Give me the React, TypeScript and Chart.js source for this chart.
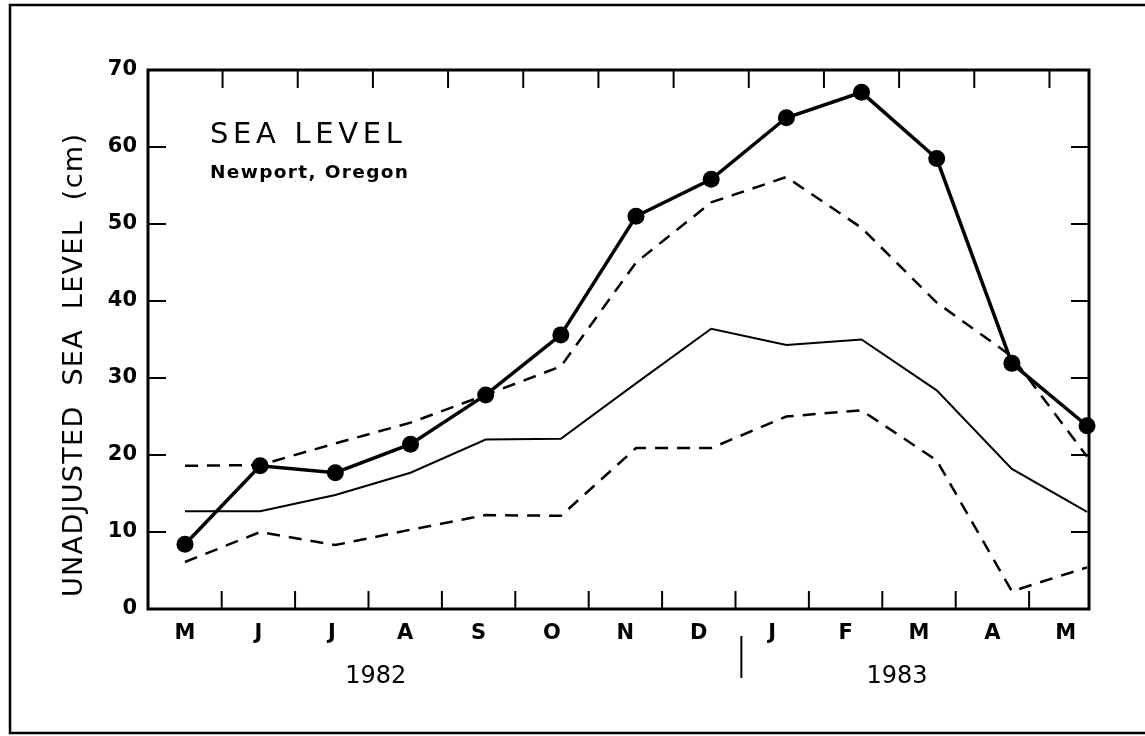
import React, { useEffect, useRef } from 'react';
import { Chart, registerables } from 'chart.js';

Chart.register(...registerables);

// ---- data ----
const months = ['M', 'J', 'J', 'A', 'S', 'O', 'N', 'D', 'J', 'F', 'M', 'A', 'M'];
const years = ['1982', '1983'];
const yTickValues = [0, 10, 20, 30, 40, 50, 60, 70];

// observed monthly sea level (thick line with dots)
const observed = [8.4, 18.6, 17.7, 21.4, 27.8, 35.6, 51.0, 55.8, 63.8, 67.1, 58.5, 31.9, 23.8];
// upper dashed envelope
const upperEnvelope = [18.6, 18.7, 21.5, 24.2, 27.8, 31.5, 45.0, 52.8, 56.1, 49.5, 39.8, 32.8, 19.8];
// long-term mean (thin solid)
const meanLevel = [12.7, 12.7, 14.8, 17.7, 22.0, 22.1, 29.3, 36.4, 34.3, 35.0, 28.4, 18.2, 12.6];
// lower dashed envelope
const lowerEnvelope = [6.1, 10.0, 8.3, 10.3, 12.2, 12.1, 20.9, 20.9, 25.0, 25.8, 19.3, 2.3, 5.4];

const title = 'SEA LEVEL';
const subtitle = 'Newport, Oregon';
const yTitle = 'UNADJUSTED  SEA  LEVEL  (cm)';

const FONT = '"DejaVu Sans", "Liberation Sans", sans-serif';

function fitText(ctx: CanvasRenderingContext2D, text: string, x: number, y: number, width: number) {
  (ctx as any).letterSpacing = '0px';
  const w = ctx.measureText(text).width;
  const ls = (width - w) / Math.max(1, text.length - 1);
  (ctx as any).letterSpacing = ls + 'px';
  ctx.textAlign = 'left';
  ctx.fillText(text, x, y);
  (ctx as any).letterSpacing = '0px';
}

const decor = {
  id: 'decor',
  afterDraw(chart: any) {
    const ctx: CanvasRenderingContext2D = chart.ctx;
    const a = chart.chartArea;
    const xs = chart.scales.x;
    const xl = chart.scales.xl;
    const ys = chart.scales.y;
    ctx.save();
    ctx.strokeStyle = '#000';
    ctx.fillStyle = '#000';
    ctx.lineCap = 'butt';

    // outer frame (open on the right)
    ctx.lineWidth = 2.5;
    ctx.beginPath();
    ctx.moveTo(1145, 5);
    ctx.lineTo(10, 5);
    ctx.lineTo(10, 733);
    ctx.lineTo(1145, 733);
    ctx.stroke();

    // plot frame
    ctx.lineWidth = 3;
    ctx.strokeRect(a.left, a.top, a.right - a.left, a.bottom - a.top);

    // inward ticks
    ctx.lineWidth = 2;
    const tl = 18;
    ctx.beginPath();
    for (let v = 10; v <= 60; v += 10) {
      const py = ys.getPixelForValue(v);
      ctx.moveTo(a.left, py);
      ctx.lineTo(a.left + tl, py);
      ctx.moveTo(a.right, py);
      ctx.lineTo(a.right - tl, py);
    }
    for (let i = 0; i < months.length - 1; i++) {
      const pb = xl.getPixelForValue(i + 0.5);
      ctx.moveTo(pb, a.bottom);
      ctx.lineTo(pb, a.bottom - tl);
      const pt = xs.getPixelForValue(i + 0.5);
      ctx.moveTo(pt, a.top);
      ctx.lineTo(pt, a.top + tl);
    }
    ctx.stroke();

    // year separator
    ctx.lineWidth = 2;
    const sx = xl.getPixelForValue(7.58);
    ctx.beginPath();
    ctx.moveTo(sx, 636);
    ctx.lineTo(sx, 678);
    ctx.stroke();

    // year labels
    ctx.font = `24px ${FONT}`;
    ctx.textAlign = 'center';
    ctx.textBaseline = 'alphabetic';
    ctx.fillText(years[0], xl.getPixelForValue(2.6), 683);
    ctx.fillText(years[1], xl.getPixelForValue(9.7), 683);

    // in-plot title
    ctx.textBaseline = 'alphabetic';
    ctx.font = `29px ${FONT}`;
    fitText(ctx, title, 210, 143, 192);
    ctx.font = `bold 18.5px ${FONT}`;
    fitText(ctx, subtitle, 210, 178, 198);

    // y-axis title
    ctx.save();
    ctx.translate(82, 366);
    ctx.rotate(-Math.PI / 2);
    ctx.font = `27px ${FONT}`;
    fitText(ctx, yTitle, -231, 0, 463);
    ctx.restore();

    ctx.restore();
  },
};

export default function App() {
  const ref = useRef<HTMLCanvasElement>(null);
  useEffect(() => {
    const canvas = ref.current;
    if (!canvas) return;
    const pts = (arr: number[]) => arr.map((v, i) => ({ x: i, y: v }));
    const chart = new Chart(canvas, {
      type: 'line',
      data: {
        datasets: [
          {
            data: pts(upperEnvelope),
            borderColor: '#000',
            borderWidth: 2.5,
            borderDash: [13, 9],
            pointRadius: 0,
            tension: 0,
            clip: false,
          } as any,
          {
            data: pts(meanLevel),
            borderColor: '#000',
            borderWidth: 2,
            pointRadius: 0,
            tension: 0,
            clip: false,
          },
          {
            data: pts(lowerEnvelope),
            borderColor: '#000',
            borderWidth: 2.5,
            borderDash: [13, 9],
            pointRadius: 0,
            tension: 0,
            clip: false,
          },
          {
            data: pts(observed),
            borderColor: '#000',
            borderWidth: 3.5,
            pointRadius: 8.5,
            pointBackgroundColor: '#000',
            pointBorderColor: '#000',
            pointBorderWidth: 0,
            tension: 0,
            clip: false,
          },
        ],
      },
      options: {
        animation: false,
        responsive: false,
        maintainAspectRatio: false,
        events: [],
        layout: { padding: { left: 0, top: 70, right: 56, bottom: 0 } },
        plugins: { legend: { display: false }, tooltip: { enabled: false } },
        scales: {
          x: { type: 'linear', display: false, min: -0.492, max: 12.026 },
          xl: {
            type: 'linear',
            position: 'bottom',
            min: -0.504,
            max: 12.316,
            afterBuildTicks: (s: any) => {
              s.ticks = months.map((_, i) => ({ value: i }));
            },
            afterFit: (s: any) => {
              s.height = 127;
            },
            ticks: {
              autoSkip: false,
              maxRotation: 0,
              padding: 12,
              color: '#000',
              font: { family: FONT, size: 21, weight: 'bold' },
              callback: (v: any) => months[Math.round(Number(v))] ?? '',
            },
            grid: { display: false, drawTicks: false },
            border: { display: false },
          },
          y: {
            type: 'linear',
            min: 0,
            max: 70,
            afterBuildTicks: (s: any) => {
              s.ticks = yTickValues.map((v) => ({ value: v }));
            },
            afterFit: (s: any) => {
              s.width = 148;
            },
            ticks: {
              padding: 11,
              color: '#000',
              font: { family: FONT, size: 21, weight: 'bold' },
              callback: (v: any) => String(v),
            },
            grid: { display: false, drawTicks: false },
            border: { display: false },
          },
        },
      } as any,
      plugins: [decor],
    });
    return () => chart.destroy();
  }, []);
  return (
    <div style={{ position: 'fixed', left: 0, top: 0, width: 1145, height: 736, background: '#fff' }}>
      <canvas ref={ref} width={1145} height={736} style={{ width: 1145, height: 736, display: 'block' }} />
    </div>
  );
}
